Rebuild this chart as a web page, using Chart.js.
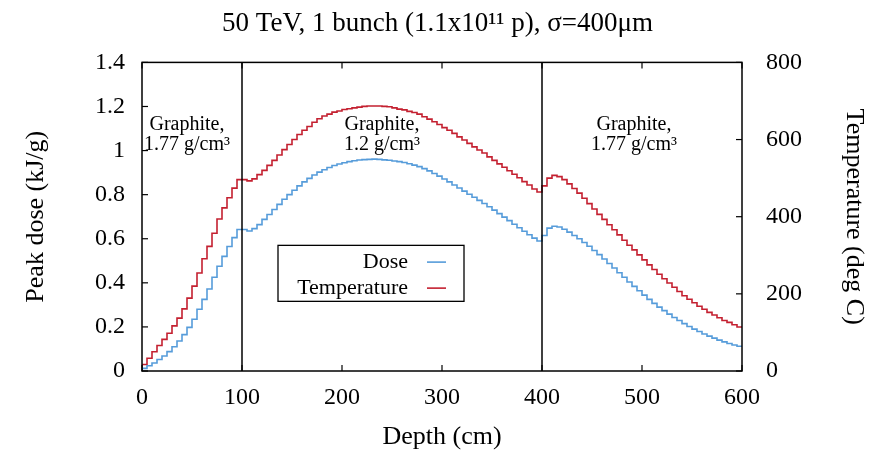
<!DOCTYPE html>
<html>
<head>
<meta charset="utf-8">
<script src="https://cdn.jsdelivr.net/npm/chart.js@4/dist/chart.umd.min.js"></script>
<style>
html,body{margin:0;padding:0;background:#fff;}
#wrap{width:875px;height:455px;}
</style>
</head>
<body>
<div id="wrap"><canvas id="c" width="875" height="455"></canvas></div>
<script>
// ---------------- data ----------------
const depth = [0,5,10,15,20,25,30,35,40,45,50,55,60,65,70,75,80,85,90,95,100,
  105,110,115,120,125,130,135,140,145,150,155,160,165,170,175,180,185,190,195,200,
  205,210,215,220,225,230,235,240,245,250,255,260,265,270,275,280,285,290,295,300,
  305,310,315,320,325,330,335,340,345,350,355,360,365,370,375,380,385,390,395,400,
  405,410,415,420,425,430,435,440,445,450,455,460,465,470,475,480,485,490,495,500,
  505,510,515,520,525,530,535,540,545,550,555,560,565,570,575,580,585,590,595,600];

const dose = [0,
  0.012,0.024,0.036,0.052,0.068,0.088,0.110,0.136,0.165,0.198,
  0.235,0.280,0.325,0.372,0.425,0.475,0.520,0.565,0.605,0.642,
  0.642,0.635,0.646,0.664,0.688,0.710,0.733,0.756,0.779,0.800,
  0.820,0.840,0.858,0.874,0.889,0.902,0.913,0.923,0.932,0.939,
  0.945,0.950,0.954,0.957,0.959,0.960,0.961,0.960,0.958,0.956,
  0.953,0.950,0.946,0.940,0.934,0.927,0.918,0.908,0.896,0.884,
  0.871,0.858,0.844,0.830,0.816,0.802,0.788,0.774,0.760,0.745,
  0.730,0.714,0.698,0.682,0.666,0.650,0.634,0.618,0.603,0.590,
  0.615,0.648,0.657,0.653,0.643,0.630,0.615,0.600,0.583,0.566,
  0.547,0.528,0.508,0.488,0.467,0.446,0.425,0.404,0.384,0.364,
  0.344,0.325,0.307,0.290,0.274,0.258,0.243,0.229,0.215,0.202,
  0.190,0.179,0.168,0.158,0.149,0.140,0.132,0.125,0.118,0.112];

const temperature = [0,
  17,33,50,66,82,98,117,137,161,189,
  220,254,291,323,357,394,423,449,474,496,
  496,493,498,509,520,533,546,560,574,587,
  600,613,624,634,645,654,661,666,671,674,
  678,680,682,684,686,687,687,687,686,685,
  682,679,677,673,670,666,659,653,646,639,
  631,624,616,607,599,590,581,573,565,555,
  546,537,528,519,510,501,491,482,472,464,
  480,500,507,504,496,485,473,461,448,434,
  420,406,393,379,366,353,339,326,314,301,
  288,275,263,251,239,228,217,206,195,186,
  177,168,160,152,145,138,131,126,120,114];

const xTicks = [0,100,200,300,400,500,600];
const doseTicks = [0,0.2,0.4,0.6,0.8,1,1.2,1.4];
const doseTickLabels = ['0','0.2','0.4','0.6','0.8','1','1.2','1.4'];
const tempTicks = [0,200,400,600,800];
const boundaries = [100,400];
const seriesNames = ['Dose','Temperature'];
const regionLabels = [['Graphite,','1.77 g/cm³'],['Graphite,','1.2 g/cm³'],['Graphite,','1.77 g/cm³']];
const titleText = '50 TeV, 1 bunch (1.1x10¹¹ p), σ=400μm';

// ---------------- styles / placement ----------------
const BLUE = 'rgb(86,156,218)';
const RED = 'rgb(196,32,48)';
const SERIF = '"Liberation Serif", "Times New Roman", serif';
const labelAnchors = [{x:45,y1:1.116,y2:1.025},{x:240,y1:1.116,y2:1.025},{x:492,y1:1.116,y2:1.025}];
const legendBox = {x0:136,x1:322,yTop:0.570,yBot:0.316,textX:266,lineX0:285,lineX1:304,rows:[0.494,0.376]};

const overlay = {
  id:'overlay',
  afterDatasetsDraw(chart){
    const ctx = chart.ctx, a = chart.chartArea;
    const sx = chart.scales.x, sy = chart.scales.y, sy2 = chart.scales.y2;
    ctx.save();
    ctx.strokeStyle = '#000';
    ctx.lineWidth = 1.5;
    // boundaries between materials
    boundaries.forEach(b=>{
      const px = sx.getPixelForValue(b);
      ctx.beginPath(); ctx.moveTo(px,a.top); ctx.lineTo(px,a.bottom); ctx.stroke();
    });
    // inward ticks
    const tl = 6;
    ctx.lineWidth = 1.2;
    xTicks.forEach(v=>{
      const px = sx.getPixelForValue(v);
      ctx.beginPath(); ctx.moveTo(px,a.bottom); ctx.lineTo(px,a.bottom-tl); ctx.stroke();
      ctx.beginPath(); ctx.moveTo(px,a.top); ctx.lineTo(px,a.top+tl); ctx.stroke();
    });
    doseTicks.forEach(v=>{
      const py = sy.getPixelForValue(v);
      ctx.beginPath(); ctx.moveTo(a.left,py); ctx.lineTo(a.left+tl,py); ctx.stroke();
    });
    tempTicks.forEach(v=>{
      const py = sy2.getPixelForValue(v);
      ctx.beginPath(); ctx.moveTo(a.right,py); ctx.lineTo(a.right-tl,py); ctx.stroke();
    });
    // frame
    ctx.lineWidth = 1.5;
    ctx.strokeRect(a.left,a.top,a.right-a.left,a.bottom-a.top);
    // region labels
    ctx.fillStyle = '#000';
    ctx.font = '20px ' + SERIF;
    ctx.textAlign = 'center';
    ctx.textBaseline = 'middle';
    regionLabels.forEach((lines,i)=>{
      const an = labelAnchors[i];
      const px = sx.getPixelForValue(an.x);
      ctx.fillText(lines[0], px, sy.getPixelForValue(an.y1));
      ctx.fillText(lines[1], px, sy.getPixelForValue(an.y2));
    });
    // legend
    const lx0 = sx.getPixelForValue(legendBox.x0), lx1 = sx.getPixelForValue(legendBox.x1);
    const ly0 = sy.getPixelForValue(legendBox.yTop), ly1 = sy.getPixelForValue(legendBox.yBot);
    ctx.fillStyle = '#fff';
    ctx.fillRect(lx0,ly0,lx1-lx0,ly1-ly0);
    ctx.strokeStyle = '#000'; ctx.lineWidth = 1.3;
    ctx.strokeRect(lx0,ly0,lx1-lx0,ly1-ly0);
    ctx.font = '22px ' + SERIF;
    ctx.textAlign = 'right';
    chart.data.datasets.forEach((ds,i)=>{
      const py = sy.getPixelForValue(legendBox.rows[i]);
      ctx.fillStyle = '#000';
      ctx.fillText(ds.label, sx.getPixelForValue(legendBox.textX), py);
      ctx.strokeStyle = ds.borderColor; ctx.lineWidth = 1.6;
      ctx.beginPath();
      ctx.moveTo(sx.getPixelForValue(legendBox.lineX0), py);
      ctx.lineTo(sx.getPixelForValue(legendBox.lineX1), py);
      ctx.stroke();
    });
    ctx.restore();
  }
};

const tickFont = {family:SERIF, size:24};
const axisTitleFont = {family:SERIF, size:26};

new Chart(document.getElementById('c'), {
  type:'line',
  data:{
    datasets:[
      {label:seriesNames[0], data:depth.map((x,i)=>({x:x,y:dose[i]})), yAxisID:'y',
       borderColor:BLUE, borderWidth:1.6, pointRadius:0, stepped:'after', fill:false},
      {label:seriesNames[1], data:depth.map((x,i)=>({x:x,y:temperature[i]})), yAxisID:'y2',
       borderColor:RED, borderWidth:1.6, pointRadius:0, stepped:'after', fill:false}
    ]
  },
  options:{
    responsive:false,
    devicePixelRatio:1,
    animation:false,
    layout:{padding:0},
    plugins:{
      legend:{display:false},
      tooltip:{enabled:false},
      title:{display:true, text:titleText, color:'#000',
        font:{family:SERIF, size:27, weight:'normal'}, padding:{top:8, bottom:22}}
    },
    scales:{
      x:{type:'linear', position:'bottom', min:0, max:600,
        afterBuildTicks:s=>{s.ticks = xTicks.map(v=>({value:v}));},
        afterFit:s=>{s.height = 84;},
        grid:{display:false, drawTicks:false}, border:{display:false},
        ticks:{color:'#000', font:tickFont, padding:12, maxRotation:0, autoSkip:false},
        title:{display:true, text:'Depth (cm)', color:'#000', font:axisTitleFont, padding:{top:0,bottom:2}}
      },
      y:{type:'linear', position:'left', min:0, max:1.4,
        afterBuildTicks:s=>{s.ticks = doseTicks.map(v=>({value:v}));},
        afterFit:s=>{s.width = 142;},
        grid:{display:false, drawTicks:false}, border:{display:false},
        ticks:{color:'#000', font:tickFont, padding:17,
          callback:(v,i)=>doseTickLabels[i]},
        title:{display:true, text:'Peak dose (kJ/g)', color:'#000', font:axisTitleFont, padding:{top:21,bottom:0}}
      },
      y2:{type:'linear', position:'right', min:0, max:800,
        afterBuildTicks:s=>{s.ticks = tempTicks.map(v=>({value:v}));},
        afterFit:s=>{s.width = 133;},
        grid:{display:false, drawTicks:false}, border:{display:false},
        ticks:{color:'#000', font:tickFont, padding:24},
        title:{display:true, text:'Temperature (deg C)', color:'#000', font:axisTitleFont, padding:{top:6,bottom:0}}
      }
    }
  },
  plugins:[overlay]
});
</script>
</body>
</html>
